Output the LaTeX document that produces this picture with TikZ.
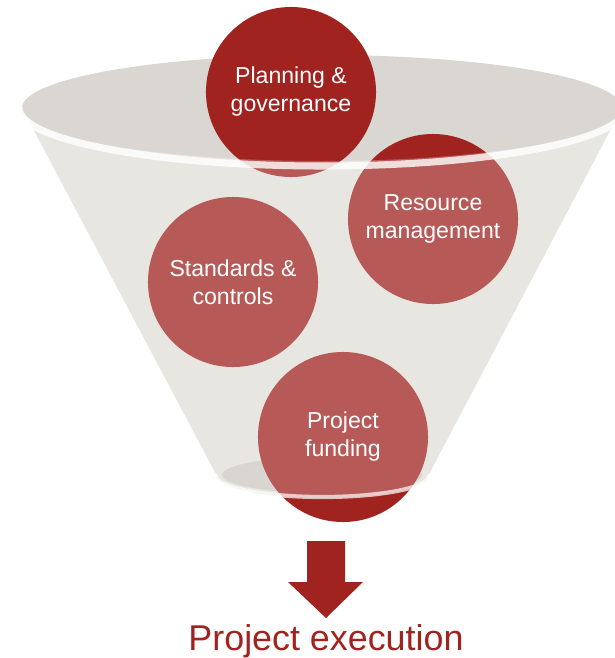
\documentclass[tikz,border=0pt]{standalone}
\usepackage{fontspec}
\setmainfont{Liberation Sans}
\usepackage{tikz}
\definecolor{brick}{HTML}{A02320}
\definecolor{conebody}{HTML}{E0DED8}
\definecolor{coneinside}{HTML}{DAD6D1}
\definecolor{conehole}{HTML}{CDC9C3}
\newcommand{\discsize}{\fontsize{16.4}{19.9}\selectfont}

\begin{document}
\begin{tikzpicture}[x=0.025cm,y=-0.025cm]
\tikzstyle{disc}=[circle,fill=brick,minimum size=4.25cm,inner sep=0pt,
  text=white,align=center,font=\discsize]
\tikzstyle{rim}=[draw=white,line cap=round]
\useasboundingbox (0,0) rectangle (615,658);
% funnel, back part
\fill[conebody] (22,108) -- (217,476) arc[start angle=180,end angle=0,x radius=105.5,y radius=22] -- (622,108) -- cycle;
\fill[coneinside] (322,108) ellipse[x radius=300,y radius=53];
\fill[conehole] (322,475) ellipse[x radius=100,y radius=18];
% the four discs
\node[disc] (plan) at (291,92) {Planning \&\\governance};
\node[disc] (res) at (433,219) {Resource\\management};
\node[disc] (std) at (233,282) {Standards \&\\controls};
\node[disc] (fund) at (343,437) {Project\\funding};
% funnel, front part
\fill[white,opacity=0.25] (22,108) arc[start angle=180,end angle=0,x radius=300,y radius=53]
  -- (428,476) arc[start angle=0,end angle=180,x radius=105.5,y radius=22] -- cycle;
\draw[rim,opacity=0.8,line width=5pt] (19,108) arc[start angle=180,end angle=0,x radius=303,y radius=58];
\draw[rim,opacity=0.7,line width=3pt] (216,476) arc[start angle=180,end angle=0,x radius=106.5,y radius=21];
% outcome
\node[anchor=base,text=brick,font=\fontsize{25.5}{30}\selectfont] (exec) at (326,650) {Project execution};
\fill[brick] (307,541) -- (345,541) -- (345,582) -- (363,582) -- (326,618) -- (288,582) -- (307,582) -- cycle;
\end{tikzpicture}
\end{document}
